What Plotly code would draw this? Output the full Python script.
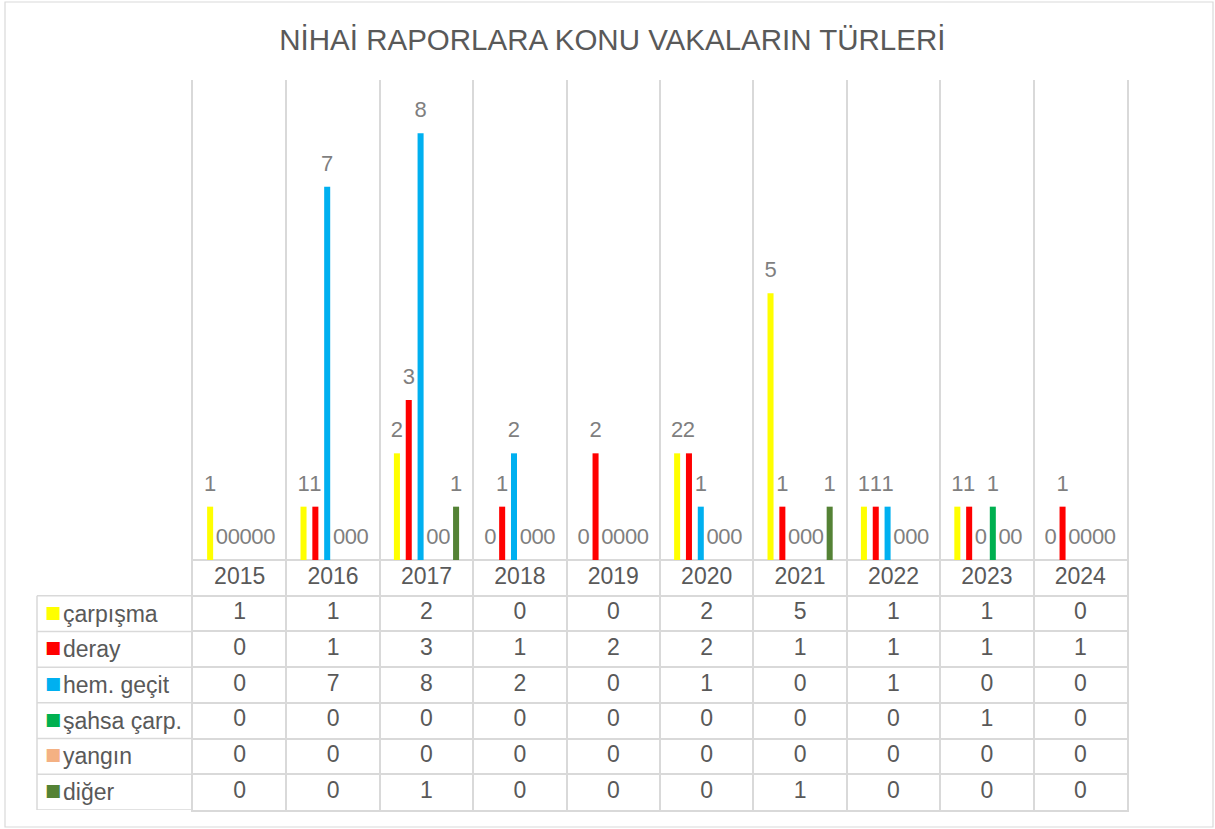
import plotly.graph_objects as go

# ---------------- data ----------------
years = ["2015", "2016", "2017", "2018", "2019", "2020", "2021", "2022", "2023", "2024"]
series_names = ["çarpışma", "deray", "hem. geçit", "şahsa çarp.", "yangın", "diğer"]
carpisma = [1, 1, 2, 0, 0, 2, 5, 1, 1, 0]
deray = [0, 1, 3, 1, 2, 2, 1, 1, 1, 1]
hem_gecit = [0, 7, 8, 2, 0, 1, 0, 1, 0, 0]
sahsa_carp = [0, 0, 0, 0, 0, 0, 0, 0, 1, 0]
yangin = [0, 0, 0, 0, 0, 0, 0, 0, 0, 0]
diger = [0, 0, 1, 0, 0, 0, 1, 0, 0, 0]
series_values = [carpisma, deray, hem_gecit, sahsa_carp, yangin, diger]
series_colors = ["#FFFF00", "#FF0000", "#00B0F0", "#00B050", "#F4B183", "#548235"]
title_text = "NİHAİ RAPORLARA KONU VAKALARIN TÜRLERİ"

# ---------------- layout constants (pixels) ----------------
W, H = 1215, 829
L, R, T, B = 193, 1127, 80, 810      # plot area (bars + table)
BASE = 560                            # bar baseline
GRID = "#D9D9D9"
TXT = "#595959"
LBL = "#7F7F7F"
FONT = "Liberation Sans, Arial, sans-serif"


def px_x(p):
    return (p - L) / (R - L)


def px_y(p):
    return (B - p) / (B - T)


fig = go.Figure()

# bars
for name, vals, col in zip(series_names, series_values, series_colors):
    fig.add_trace(go.Bar(x=years, y=vals, name=name, marker=dict(color=col, line=dict(width=0)),
                         xaxis="x", yaxis="y", showlegend=False, hoverinfo="x+y+name"))

# data labels (grouped scatter so they sit above each bar slot)
for name, vals in zip(series_names, series_values):
    fig.add_trace(go.Scatter(x=years, y=vals, mode="markers+text", text=[str(v) for v in vals],
                             textposition="top center",
                             textfont=dict(size=22, color=LBL, family=FONT),
                             marker=dict(size=15, color="rgba(0,0,0,0)"),
                             xaxis="x", yaxis="y", showlegend=False, hoverinfo="skip",
                             cliponaxis=False))

# data table text (single trace)
row_keys = ["year"] + series_names
tx, ty, tt = [], [], []
for y in years:
    tx.append(y); ty.append("year"); tt.append(y)
for name, vals in zip(series_names, series_values):
    for y, v in zip(years, vals):
        tx.append(y); ty.append(name); tt.append(str(v))
fig.add_trace(go.Scatter(x=tx, y=ty, mode="text", text=tt, textposition="middle center",
                         textfont=dict(size=23, color=TXT, family=FONT),
                         xaxis="x", yaxis="y2", showlegend=False, hoverinfo="skip"))

annotations = []
shapes = []
for name, col in zip(series_names, series_colors):
    annotations.append(dict(xref="paper", yref="y2", x=px_x(43), y=name, xanchor="left",
                            yanchor="middle", text="■", showarrow=False, yshift=2,
                            font=dict(size=17, color=col, family="DejaVu Sans")))
    annotations.append(dict(xref="paper", yref="y2", x=px_x(61), y=name, xanchor="left",
                            yanchor="middle", text=name, showarrow=False,
                            font=dict(size=23, color=TXT, family=FONT)))

# label-column grid of the table
for k in range(7):
    shapes.append(dict(type="line", xref="paper", yref="y2", x0=px_x(37), x1=0,
                       y0=k + 0.5, y1=k + 0.5, line=dict(color=GRID, width=1.5)))
shapes.append(dict(type="line", xref="paper", yref="y2", x0=px_x(37), x1=px_x(37),
                   y0=0.5, y1=6.5, line=dict(color=GRID, width=1.5)))
# chart border
shapes.append(dict(type="rect", xref="paper", yref="paper", x0=px_x(5), x1=px_x(1213),
                   y0=px_y(827), y1=px_y(2), line=dict(color=GRID, width=1.2)))

split = (B - BASE) / (B - T)

fig.update_layout(
    width=W, height=H,
    margin=dict(l=L, r=W - R, t=T, b=H - B, pad=0),
    paper_bgcolor="white", plot_bgcolor="white",
    barmode="group", bargap=0.24, bargroupgap=0.49,
    scattermode="group", scattergap=0.24,
    title=dict(text=title_text, x=0.504, xref="container", xanchor="center",
               y=1 - 40 / H, yref="container", yanchor="middle",
               font=dict(size=29.5, color=TXT, family=FONT)),
    font=dict(family=FONT, color=TXT),
    xaxis=dict(type="category", categoryorder="array", categoryarray=years,
               range=[-0.5, 9.5], tickson="boundaries", showgrid=True, gridcolor=GRID,
               gridwidth=1.5, showticklabels=False, ticks="", anchor="y2",
               showline=True, linecolor=GRID, linewidth=1.5, zeroline=False),
    yaxis=dict(domain=[split, 1], range=[0, 9], showgrid=False, showticklabels=False,
               ticks="", zeroline=True, zerolinecolor=GRID, zerolinewidth=1.5,
               showline=True, mirror=True, linecolor=GRID, linewidth=1.5, anchor="x"),
    yaxis2=dict(domain=[0, split], type="category", categoryorder="array",
                categoryarray=row_keys, range=[6.5, -0.5], tickson="boundaries",
                showgrid=True, gridcolor=GRID, gridwidth=1.5, showticklabels=False,
                ticks="", zeroline=False, showline=True, mirror=True, linecolor=GRID,
                linewidth=1.5, anchor="x"),
    annotations=annotations,
    shapes=shapes,
)

fig.write_html("out.html", config={"displayModeBar": False},
               post_script="document.body.style.margin='0px';document.body.style.overflow='hidden';")
